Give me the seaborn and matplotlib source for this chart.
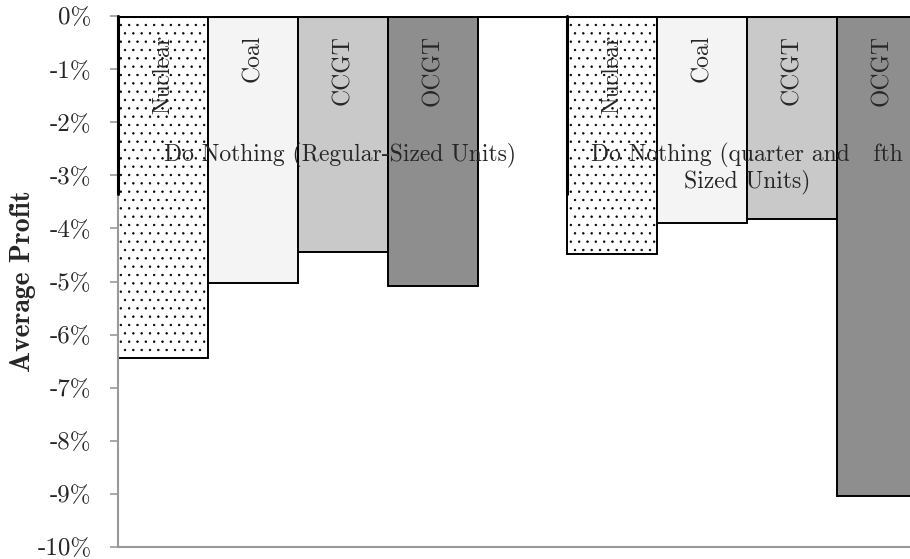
import matplotlib
matplotlib.use('agg')

import matplotlib.pyplot as plt
import seaborn as sns
import pandas as pd

# values (percent)
techs = ['Nuclear', 'Coal', 'CCGT', 'OCGT']
regular = [-6.45, -5.02, -4.45, -5.09]
small = [-4.49, -3.89, -3.82, -9.04]
groups = ['Do Nothing (Regular-Sized Units)', 'Do Nothing (quarter and   fth\nSized Units)']
yticks = [0, -1, -2, -3, -4, -5, -6, -7, -8, -9, -10]
colors = {'Nuclear': 'white', 'Coal': '#f4f4f4', 'CCGT': '#c9c9c9', 'OCGT': '#8e8e8e'}

slots = [t + ' 1' for t in techs] + ['gap'] + [t + ' 2' for t in techs]
df = pd.DataFrame({
    'slot': [t + ' 1' for t in techs] + [t + ' 2' for t in techs],
    'tech': techs + techs,
    'profit': regular + small,
})

sns.set_style('white')
plt.rcParams['font.family'] = ['cmr10', 'DejaVu Serif']
plt.rcParams['axes.unicode_minus'] = False
plt.rcParams['hatch.color'] = 'black'
plt.rcParams['hatch.linewidth'] = 0.5

fig = plt.figure(figsize=(9.1, 5.59), dpi=100)
ax = fig.add_axes([118 / 910, 12 / 559, 800 / 910, 531 / 559])

sns.barplot(data=df, x='slot', y='profit', hue='tech', order=slots,
            hue_order=techs, palette=colors, dodge=False, width=1.0,
            edgecolor='black', linewidth=1.4, legend=False, ax=ax)

for p in ax.patches:
    if p.get_facecolor()[:3] == (1.0, 1.0, 1.0):
        p.set_hatch('..')

ax.set_xlim(-0.5, 8.4)
ax.set_ylim(-10, 0)
ax.axhline(0, color='black', lw=2.2, zorder=5)

# thick left edge on the nuclear bars (as in the reference)
for x0 in (-0.5, 4.5):
    ax.plot([x0, x0], [0, -3.36], color='black', lw=2.2, zorder=6, clip_on=False)

for i, t in enumerate(techs):
    for off in (0, 5):
        ax.text(i + off, -0.36, t, rotation=90, ha='center', va='top', fontsize=17)

ax.text(1.97, -2.62, groups[0], ha='center', va='center', fontsize=17)
ax.text(6.5, -2.87, groups[1], ha='center', va='center', fontsize=17, linespacing=1.1)

ax.set_yticks(yticks)
ax.set_yticklabels([f'{v}%' for v in yticks], fontsize=18)
ax.set_xticks([])
ax.set_xlabel('')
ax.set_ylabel('Average Profit', fontsize=20, family='cmb10', labelpad=1)

sns.despine(ax=ax, top=True, right=True)
for s in ('left', 'bottom'):
    ax.spines[s].set_color('#999999')
    ax.spines[s].set_linewidth(1.5)
ax.tick_params(axis='y', left=True, length=6, width=1.2, color='#999999', pad=13)

fig.savefig('out.png', dpi=100)
